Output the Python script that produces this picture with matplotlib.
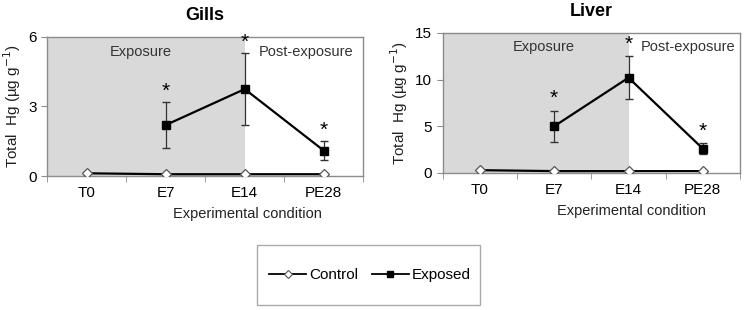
import numpy as np
import matplotlib
matplotlib.use("Agg")
import matplotlib.pyplot as plt
from matplotlib.lines import Line2D
from matplotlib.patches import Rectangle

plt.rcParams["font.family"] = ["Liberation Sans", "DejaVu Sans"]

conditions = ["T0", "E7", "E14", "PE28"]

# Gills (µg g-1)
gills_control = [0.12, 0.08, 0.08, 0.08]
gills_exposed = [np.nan, 2.2, 3.75, 1.1]
gills_exposed_err = [np.nan, 1.0, 1.55, 0.42]

# Liver (µg g-1)
liver_control = [0.3, 0.2, 0.2, 0.2]
liver_exposed = [np.nan, 5.0, 10.2, 2.6]
liver_exposed_err = [np.nan, 1.65, 2.3, 0.6]

GRAY = "#d9d9d9"
SPINE = "#8c8c8c"


def panel(ax, title, control, exposed, err, ymax, yticks, star_off,
          txt_pos, txt_y):
    x = np.arange(len(conditions))
    ax.axvspan(-0.5, 2, color=GRAY, zorder=0, lw=0)
    ax.plot(x, control, color="black", lw=1.6, marker="D", ms=5.5,
            mfc="white", mec="#555555", mew=0.9, zorder=4)
    ax.errorbar(x, exposed, yerr=err, color="black", lw=1.6, marker="s",
                ms=6, elinewidth=0.9, ecolor="#333333", capsize=3,
                zorder=5)
    for xi, v, e in zip(x, exposed, err):
        if not np.isnan(v):
            ax.text(xi, v + e + star_off, "*", ha="center", va="center",
                    fontsize=15)
    ax.set_xlim(-0.5, 3.5)
    ax.set_ylim(0, ymax)
    ax.set_yticks(yticks)
    ax.set_xticks(x)
    ax.set_xticklabels(conditions, fontsize=11)
    ax.set_xticks(np.arange(-0.5, 4, 1), minor=True)
    ax.tick_params(axis="x", which="major", length=0, pad=7)
    ax.tick_params(axis="x", which="minor", length=4, direction="out",
                   color=SPINE)
    ax.tick_params(axis="y", length=4, color=SPINE, labelsize=11)
    for s in ax.spines.values():
        s.set_color(SPINE)
        s.set_linewidth(1.0)
    ax.set_xlabel("Experimental condition", fontsize=10.5, labelpad=1,
                  color="#222222")
    ax.xaxis.set_label_coords(0.635, -0.22)
    ax.set_ylabel("Total  Hg (µg g$^{-1}$)", fontsize=11, labelpad=4,
                  color="#222222")
    ax.set_title(title, fontsize=13, fontweight="bold", pad=12)
    ax.text(txt_pos[0], txt_y, "Exposure", ha="center", va="center",
            fontsize=10.5, color="#333333",
            transform=ax.get_xaxis_transform())
    ax.text(txt_pos[1], txt_y, "Post-exposure", ha="center", va="center",
            fontsize=10.5, color="#333333",
            transform=ax.get_xaxis_transform())


fig = plt.figure(figsize=(7.49, 3.10), dpi=100)
ax1 = fig.add_axes([0.063, 0.432, 0.422, 0.449])
ax2 = fig.add_axes([0.591, 0.442, 0.397, 0.452])

panel(ax1, "Gills", gills_control, gills_exposed, gills_exposed_err,
      6, [0, 3, 6], 0.45, (0.69, 2.77), 0.89)
panel(ax2, "Liver", liver_control, liver_exposed, liver_exposed_err,
      15, [0, 5, 10, 15], 1.3, (0.86, 2.8), 0.9)

# legend box
fig.add_artist(Rectangle((257 / 749, 1 - 305 / 310), 223 / 749, 60 / 310,
                         transform=fig.transFigure, facecolor="white",
                         edgecolor="#aaaaaa", lw=1.0))
handles = [
    Line2D([], [], color="black", lw=1.3, marker="D", ms=4, mfc="white",
           mec="#555555", mew=0.8),
    Line2D([], [], color="black", lw=1.3, marker="s", ms=4.5),
]
fig.legend(handles, ["Control", "Exposed"], ncol=2, loc="center",
           bbox_to_anchor=(370 / 749, 1 - 275 / 310), fontsize=11,
           frameon=False, handlelength=2.4, handletextpad=0.2,
           columnspacing=0.9, borderaxespad=0, borderpad=0)

fig.savefig("out.png", dpi=100)
